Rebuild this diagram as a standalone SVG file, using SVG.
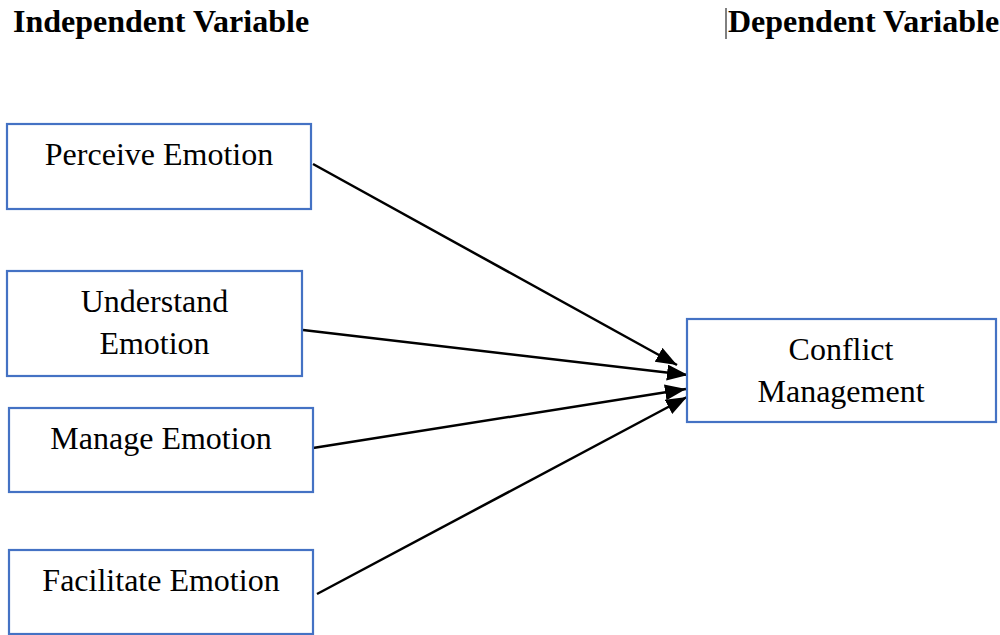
<svg xmlns="http://www.w3.org/2000/svg" width="1000" height="635" viewBox="0 0 1000 635">
<style>
.box{fill:#fff;stroke:#4472C4;stroke-width:2.2}
.t{font-family:"Liberation Serif","Times New Roman",serif;font-size:32px;fill:#000;text-anchor:middle}
.h{font-family:"Liberation Serif","Times New Roman",serif;font-size:32px;font-weight:bold;fill:#000}
.c{stroke:#000;stroke-width:2.5;fill:none;marker-end:url(#ah)}
</style>
<defs>
<marker id="ah" markerUnits="userSpaceOnUse" markerWidth="24" markerHeight="18" refX="21" refY="8" orient="auto">
<path d="M0,0 L21,8 L0,16 z" fill="#000"/>
</marker>
</defs>
<rect width="1000" height="635" fill="#fff"/>
<g id="headers">
<text class="h" x="13" y="32">Independent Variable</text>
<line x1="726" y1="8" x2="726" y2="39" stroke="#000" stroke-width="1"/>
<text class="h" x="728" y="32">Dependent Variable</text>
</g>
<g id="connectors">
<line class="c" x1="313" y1="164" x2="677" y2="365"/>
<line class="c" x1="303" y1="330" x2="688" y2="375"/>
<line class="c" x1="313" y1="448" x2="686" y2="389"/>
<line class="c" x1="317" y1="594" x2="687" y2="397"/>
</g>
<g id="perceive">
<rect class="box" x="7" y="124" width="304" height="85"/>
<text class="t" x="159" y="165">Perceive Emotion</text>
</g>
<g id="understand">
<rect class="box" x="7" y="271" width="295" height="105"/>
<text class="t" x="154.5" y="312">Understand</text>
<text class="t" x="154.5" y="354">Emotion</text>
</g>
<g id="manage">
<rect class="box" x="9" y="408" width="304" height="84"/>
<text class="t" x="161" y="449">Manage Emotion</text>
</g>
<g id="facilitate">
<rect class="box" x="9" y="550" width="304" height="84"/>
<text class="t" x="161" y="591">Facilitate Emotion</text>
</g>
<g id="conflict">
<rect class="box" x="687" y="319" width="309" height="103"/>
<text class="t" x="841" y="360">Conflict</text>
<text class="t" x="841" y="402">Management</text>
</g>
</svg>
